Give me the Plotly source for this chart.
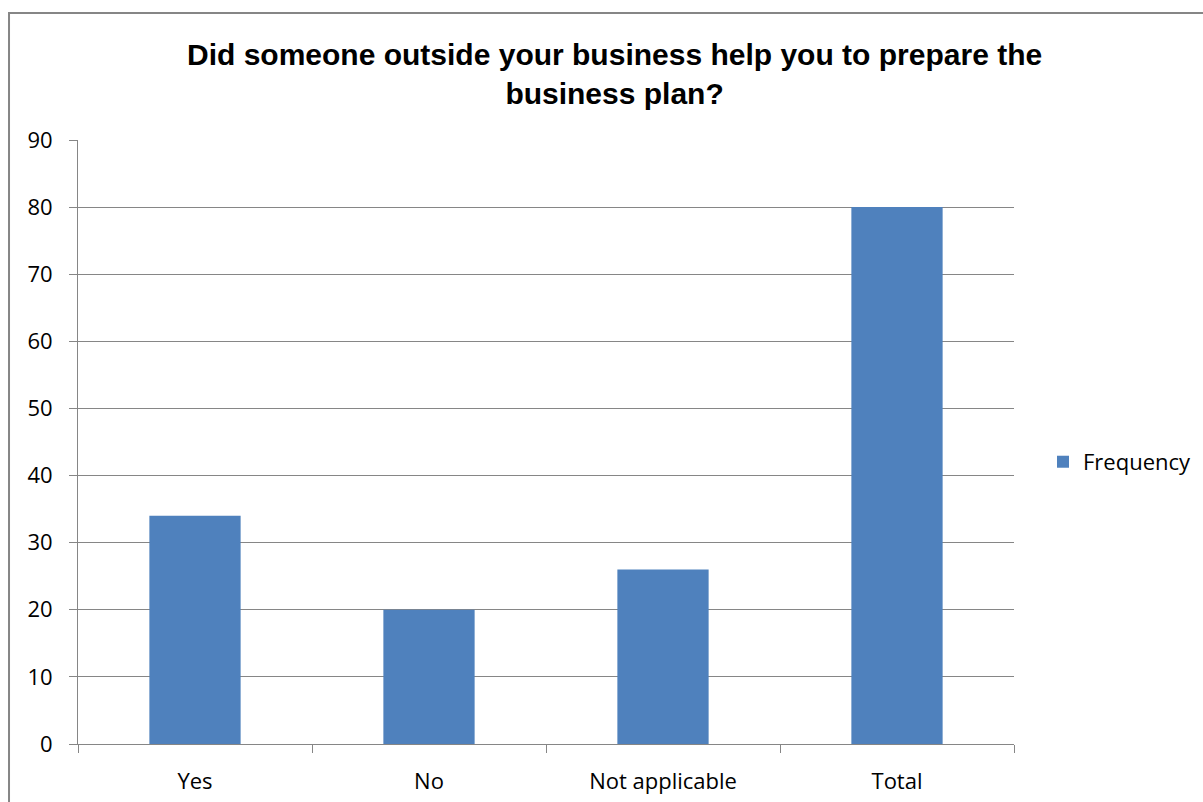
import plotly.graph_objects as go

# Survey responses
categories = ["Yes", "No", "Not applicable", "Total"]
frequency = [34, 20, 26, 80]
y_ticks = [0, 10, 20, 30, 40, 50, 60, 70, 80, 90]

GRID = "#868686"
BAR = "#4F81BD"
TICK_FONT = dict(family="'Open Sans', Lato, sans-serif", size=22, color="#000000")

fig = go.Figure()
fig.add_trace(go.Bar(
    x=categories,
    y=frequency,
    name="Frequency",
    marker=dict(color=BAR, line=dict(width=0)),
    width=0.39,
    showlegend=True,
))

fig.update_layout(
    width=1203,
    height=802,
    margin=dict(l=78, r=189, t=140, b=58, autoexpand=False),
    paper_bgcolor="white",
    plot_bgcolor="white",
    showlegend=True,
    legend=dict(
        x=1.031, y=0.467, xanchor="left", yanchor="middle",
        font=TICK_FONT, itemwidth=30, bgcolor="rgba(0,0,0,0)",
    ),
    annotations=[dict(
        text="<b>Did someone outside your business help you to prepare the<br>business plan?</b>",
        xref="paper", yref="paper", x=0.573, y=1.046,
        xanchor="center", yanchor="bottom", showarrow=False,
        font=dict(family="'Liberation Sans', Arial, sans-serif", size=30, color="#000000"),
    )],
    shapes=[dict(
        type="rect", xref="paper", yref="paper",
        x0=-0.0737, y0=-0.3, x1=1.4, y1=1.2103,
        line=dict(color=GRID, width=2), fillcolor="rgba(0,0,0,0)", layer="below",
    )],
)

fig.update_xaxes(
    type="category",
    tickson="boundaries",
    ticks="outside", ticklen=8, tickcolor=GRID, tickwidth=1,
    showline=True, linecolor=GRID, linewidth=1,
    showgrid=False,
    tickfont=TICK_FONT,
    ticklabelstandoff=18,
    automargin=False,
)
fig.update_yaxes(
    range=[0, 90],
    tickvals=y_ticks,
    ticks="outside", ticklen=8, tickcolor=GRID, tickwidth=1,
    showline=True, linecolor=GRID, linewidth=1,
    showgrid=True, gridcolor=GRID, gridwidth=1,
    zeroline=False,
    tickfont=TICK_FONT,
    ticklabelstandoff=12,
    automargin=False,
)

fig.write_html("out.html")
